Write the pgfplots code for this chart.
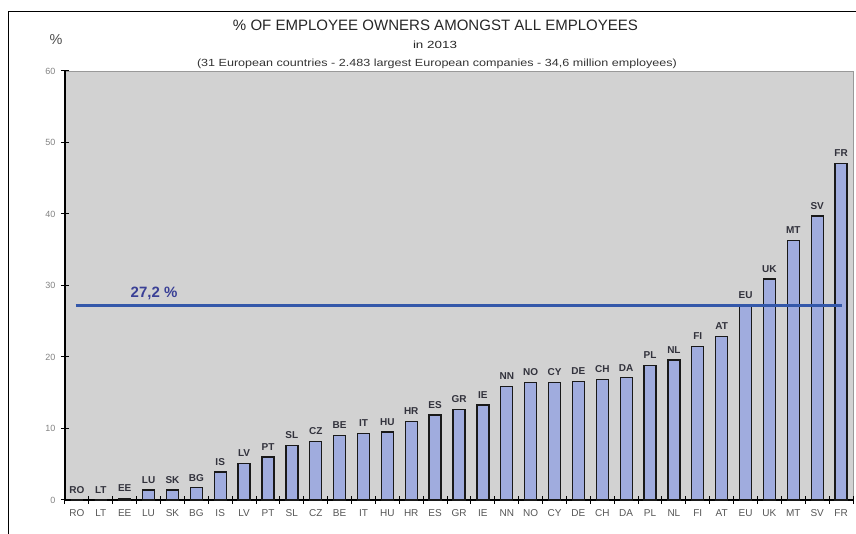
\documentclass[border=0pt]{standalone}
\usepackage{pgfplots}
\pgfplotsset{compat=1.18}
\usepackage{pgfplotstable}
\usepackage{fontspec}
\usepackage{graphicx}
\setmainfont{Liberation Sans}
\definecolor{plotbg}{RGB}{210,210,210}
\definecolor{barfill}{RGB}{160,172,222}
\definecolor{avgline}{RGB}{52,88,170}
\definecolor{avgtext}{RGB}{58,64,150}
\definecolor{ticktxt}{RGB}{85,85,85}
\definecolor{ytxt}{RGB}{130,130,130}
\definecolor{bartxt}{RGB}{50,50,60}

\pgfplotstableread{
x val lab
0 0.0 RO
1 0.0 LT
2 0.2 EE
3 1.4 LU
4 1.4 SK
5 1.7 BG
6 3.9 IS
7 5.1 LV
8 6.0 PT
9 7.6 SL
10 8.2 CZ
11 9.0 BE
12 9.3 IT
13 9.5 HU
14 11.0 HR
15 11.9 ES
16 12.7 GR
17 13.3 IE
18 15.9 NN
19 16.4 NO
20 16.4 CY
21 16.6 DE
22 16.9 CH
23 17.1 DA
24 18.8 PL
25 19.6 NL
26 21.5 FI
27 22.9 AT
28 27.2 EU
29 30.9 UK
30 36.3 MT
31 39.7 SV
32 47.1 FR
}\datatable

\begin{document}
\begin{tikzpicture}[x=1pt,y=1pt]
\useasboundingbox (0,0) rectangle (856,534);
% outer frame
\draw[black, line width=1.3pt] (8.3,0) -- (8.3,522.3) -- (856,522.3);
% titles
\node at (435.5,508.5) {\resizebox{405pt}{10.5pt}{\color{black!85}\% OF EMPLOYEE OWNERS AMONGST ALL EMPLOYEES}};
\node at (435,489) {\resizebox{44pt}{7.5pt}{\color{black!85}in 2013}};
\node at (437,470.5) {\resizebox{480pt}{7.5pt}{\color{black!80}(31 European countries - 2.483 largest European companies - 34,6 million employees)}};
\node at (56,494) {\resizebox{!}{10pt}{\color{black!70}\%}};
\begin{axis}[
  at={(65pt,34pt)}, anchor=south west,
  scale only axis, width=788pt, height=429pt,
  xmin=-0.5, xmax=32.5, ymin=0, ymax=60,
  axis background/.style={fill=plotbg, draw=black!40, line width=0.6pt},
  axis x line*=bottom, axis y line*=left,
  axis line style={black, line width=1.3pt, -},
  xtick={-0.5,0.5,...,32.5},
  x tick label as interval=true,
  xticklabels from table={\datatable}{lab},
  x tick label style={font=\fontsize{10}{12}\selectfont, text=ticktxt, yshift=-2pt},
  ytick={0,10,...,60},
  y tick label style={font=\fontsize{9}{11}\selectfont, text=ytxt, xshift=-2pt},
  /pgf/number format/assume math mode=true,
  tick align=center,
  major tick length=8pt,
  tick style={black, line width=1pt},
  clip=false,
]
\addplot[ybar, bar width=12pt, fill=barfill, draw=black!90, line width=1.3pt,
  nodes near coords, point meta=explicit symbolic,
  every node near coord/.append style={font=\bfseries\fontsize{10}{12}\selectfont, text=bartxt, anchor=south, inner sep=0pt, yshift=6pt}]
  table[x=x, y=val, meta=lab] {\datatable};
\addplot[avgline, line width=3pt, mark=none] coordinates {(-0.05,27.2) (32.05,27.2)};
\node[font=\bfseries\fontsize{15}{17}\selectfont, text=avgtext] at (axis cs:3.23,28.95) {27,2 \%};
\end{axis}
\end{tikzpicture}
\end{document}
